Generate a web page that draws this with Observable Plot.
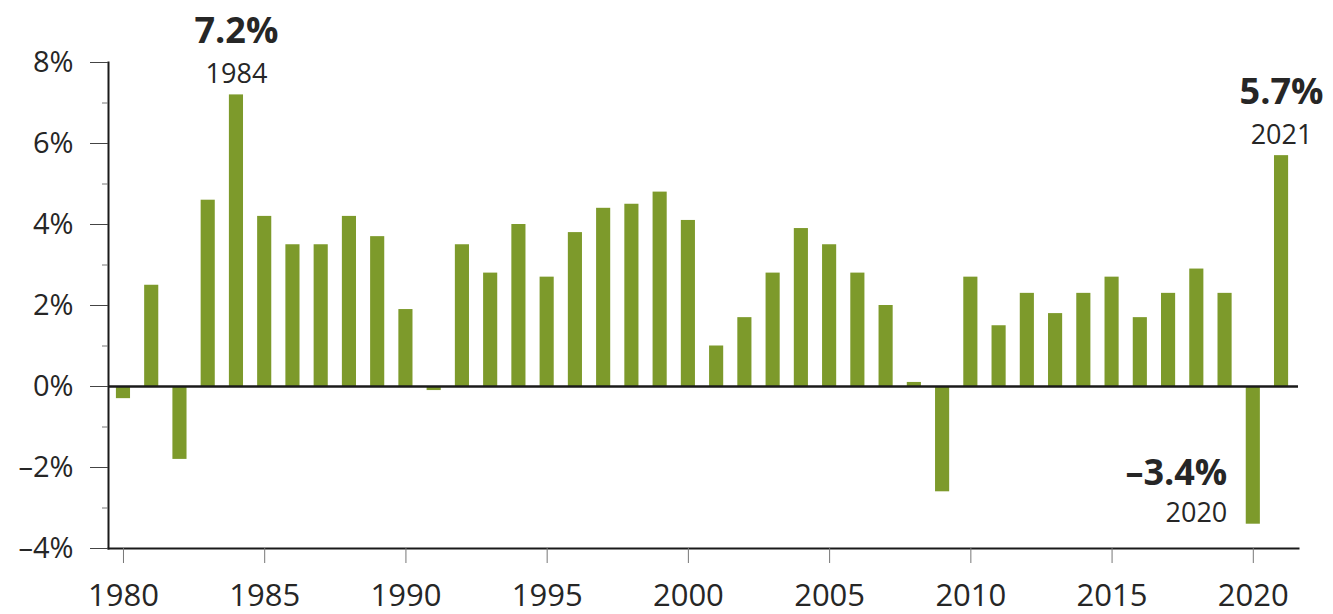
<!DOCTYPE html>
<html>
<head>
<meta charset="utf-8">
<script src="https://cdn.jsdelivr.net/npm/d3@7"></script>
<script src="https://cdn.jsdelivr.net/npm/@observablehq/plot@0.6"></script>
<style>
  html, body { margin: 0; padding: 0; background: #ffffff; }
  #chart svg { display: block; }
</style>
</head>
<body>
<div id="chart"></div>
<script>
const years = [1980,1981,1982,1983,1984,1985,1986,1987,1988,1989,1990,1991,1992,1993,1994,1995,1996,1997,1998,1999,2000,2001,2002,2003,2004,2005,2006,2007,2008,2009,2010,2011,2012,2013,2014,2015,2016,2017,2018,2019,2020,2021];
const growth = [-0.3,2.5,-1.8,4.6,7.2,4.2,3.5,3.5,4.2,3.7,1.9,-0.1,3.5,2.8,4.0,2.7,3.8,4.4,4.5,4.8,4.1,1.0,1.7,2.8,3.9,3.5,2.8,2.0,0.1,-2.6,2.7,1.5,2.3,1.8,2.3,2.7,1.7,2.3,2.9,2.3,-3.4,5.7];

const yTicks = [-4,-2,0,2,4,6,8];
const yMinorTicks = [-3,-1,1,3,5,7];
const xTicks = [1980,1985,1990,1995,2000,2005,2010,2015,2020];

const noteYears = [1984, 2021, 2020];
const noteValues = ["7.2%", "5.7%", "–3.4%"];

const data = years.map((year, i) => ({year, value: growth[i]}));
const notes = noteYears.map((year, i) => ({year, value: growth[years.indexOf(year)], pct: noteValues[i], label: String(year)}));
const upNotes = notes.filter(d => d.value > 0);
const downNotes = notes.filter(d => d.value < 0);

const barColor = "#7d9a2b";
const ink = "#262626";
const fmtPct = d => (d < 0 ? "–" + Math.abs(d) : String(d)) + "%";

const chart = Plot.plot({
  width: 1333,
  height: 614,
  marginLeft: 108,
  marginRight: 35,
  marginTop: 62,
  marginBottom: 66,
  style: {fontFamily: "'Open Sans', sans-serif", color: ink, background: "#ffffff"},
  x: {type: "linear", domain: [1979.47, 2021.6], label: null},
  y: {domain: [-4, 8], label: null},
  marks: [
    Plot.rectY(data, {x1: d => d.year - 0.25, x2: d => d.year + 0.25, y1: 0, y2: "value", fill: barColor}),
    Plot.ruleY([0], {stroke: "#1a1a1a", strokeWidth: 2.5}),
    Plot.frame({anchor: "left", stroke: "#1a1a1a", strokeWidth: 2}),
    Plot.frame({anchor: "bottom", stroke: "#1a1a1a", strokeWidth: 2}),
    Plot.axisY({ticks: yTicks, tickSize: 18, tickPadding: 17, tickFormat: fmtPct, fontSize: 29, stroke: "#444", color: ink, label: null}),
    Plot.axisY({ticks: yMinorTicks, tickSize: 6, tickFormat: () => "", stroke: "#777", label: null}),
    Plot.axisX({ticks: xTicks, tickSize: 15, tickPadding: 20, tickFormat: d3.format("d"), fontSize: 31, stroke: "#777", color: ink, label: null}),
    Plot.text(upNotes, {x: "year", y: "value", text: "label", dy: -12, lineAnchor: "bottom", fontSize: 27, fill: ink}),
    Plot.text(upNotes, {x: "year", y: "value", text: "pct", dy: -52, lineAnchor: "bottom", fontSize: 36, fontWeight: "bold", fill: ink}),
    Plot.text(downNotes, {x: "year", y: "value", text: "label", dx: -26, dy: -2, textAnchor: "end", lineAnchor: "bottom", fontSize: 27, fill: ink}),
    Plot.text(downNotes, {x: "year", y: "value", text: "pct", dx: -26, dy: -39, textAnchor: "end", lineAnchor: "bottom", fontSize: 36, fontWeight: "bold", fill: ink})
  ]
});
document.getElementById("chart").append(chart);
</script>
</body>
</html>
